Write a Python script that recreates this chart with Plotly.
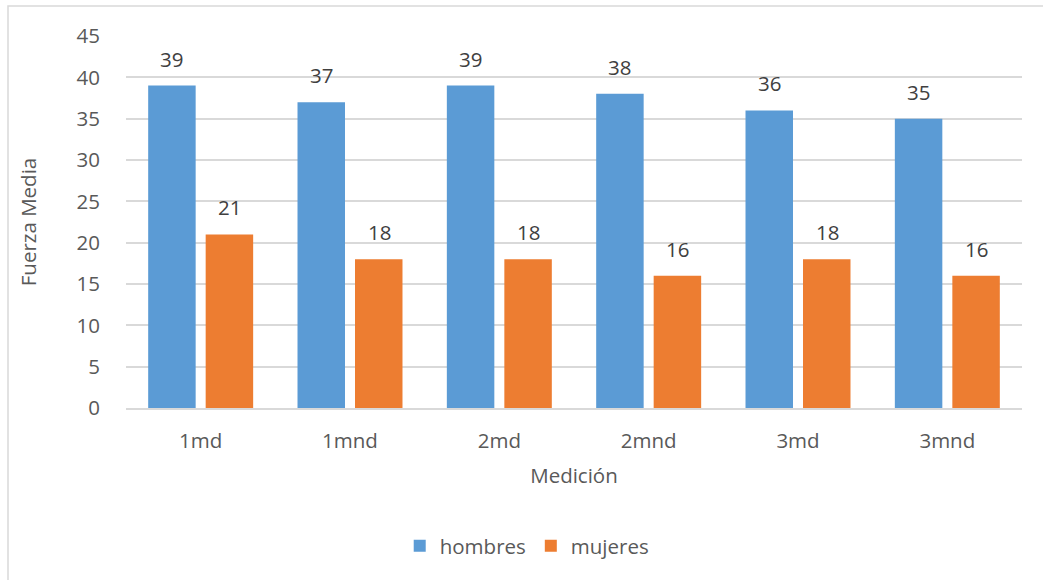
import plotly.graph_objects as go

categorias = ["1md", "1mnd", "2md", "2mnd", "3md", "3mnd"]
hombres = [39, 37, 39, 38, 36, 35]
mujeres = [21, 18, 18, 16, 18, 16]
ticks_y = [0, 5, 10, 15, 20, 25, 30, 35, 40, 45]

AZUL = "#5b9bd5"
NARANJA = "#ed7d31"
GRIS_TEXTO = "#595959"
GRIS_LINEA = "#d9d9d9"
FUENTE = "Open Sans"
TAM = 20.5

fig = go.Figure()
fig.add_trace(go.Bar(name="hombres", x=categorias, y=hombres,
                     marker=dict(color=AZUL, line=dict(width=0))))
fig.add_trace(go.Bar(name="mujeres", x=categorias, y=mujeres,
                     marker=dict(color=NARANJA, line=dict(width=0))))

# value labels above each bar
for serie, desplaz in ((hombres, -29), (mujeres, 29)):
    for cat, val in zip(categorias, serie):
        fig.add_annotation(x=cat, y=val, xref="x", yref="y", text=str(val),
                           showarrow=False, xshift=desplaz, yshift=11,
                           yanchor="bottom",
                           font=dict(family=FUENTE, size=TAM, color="#404040"))

# chart frame
fig.add_shape(type="rect", xref="paper", yref="paper",
              x0=-118 / 896, x1=1.05, y0=-0.6, y1=(408 - 6) / 372,
              line=dict(color=GRIS_LINEA, width=1.5), fillcolor="rgba(0,0,0,0)",
              layer="below")

fig.update_layout(
    width=1043, height=580,
    margin=dict(l=126, r=21, t=36, b=172),
    paper_bgcolor="white", plot_bgcolor="white",
    barmode="group", bargap=0.23, bargroupgap=0.174,
    font=dict(family=FUENTE, size=TAM, color=GRIS_TEXTO),
    showlegend=True,
    legend=dict(orientation="h", xref="container", yref="container",
                x=0.505, y=1 - 546 / 580, xanchor="center", yanchor="middle",
                font=dict(family=FUENTE, size=TAM, color=GRIS_TEXTO),
                itemwidth=30, tracegroupgap=0),
    xaxis=dict(
        title=dict(text="Medición", standoff=15,
                   font=dict(family=FUENTE, size=TAM, color=GRIS_TEXTO)),
        showgrid=False, showline=True, linecolor=GRIS_LINEA, linewidth=1.5,
        ticks="outside", ticklen=14, tickcolor="rgba(0,0,0,0)",
        tickfont=dict(family=FUENTE, size=TAM, color=GRIS_TEXTO),
    ),
    yaxis=dict(
        title=dict(text="Fuerza Media", standoff=34,
                   font=dict(family=FUENTE, size=TAM, color=GRIS_TEXTO)),
        range=[0, 45], tickvals=ticks_y, showgrid=True, gridcolor=GRIS_LINEA,
        gridwidth=1.5, zeroline=False, showline=False,
        ticks="outside", ticklen=21, tickcolor="rgba(0,0,0,0)",
        tickfont=dict(family=FUENTE, size=TAM, color=GRIS_TEXTO),
    ),
)

fig.write_html("out.html")
